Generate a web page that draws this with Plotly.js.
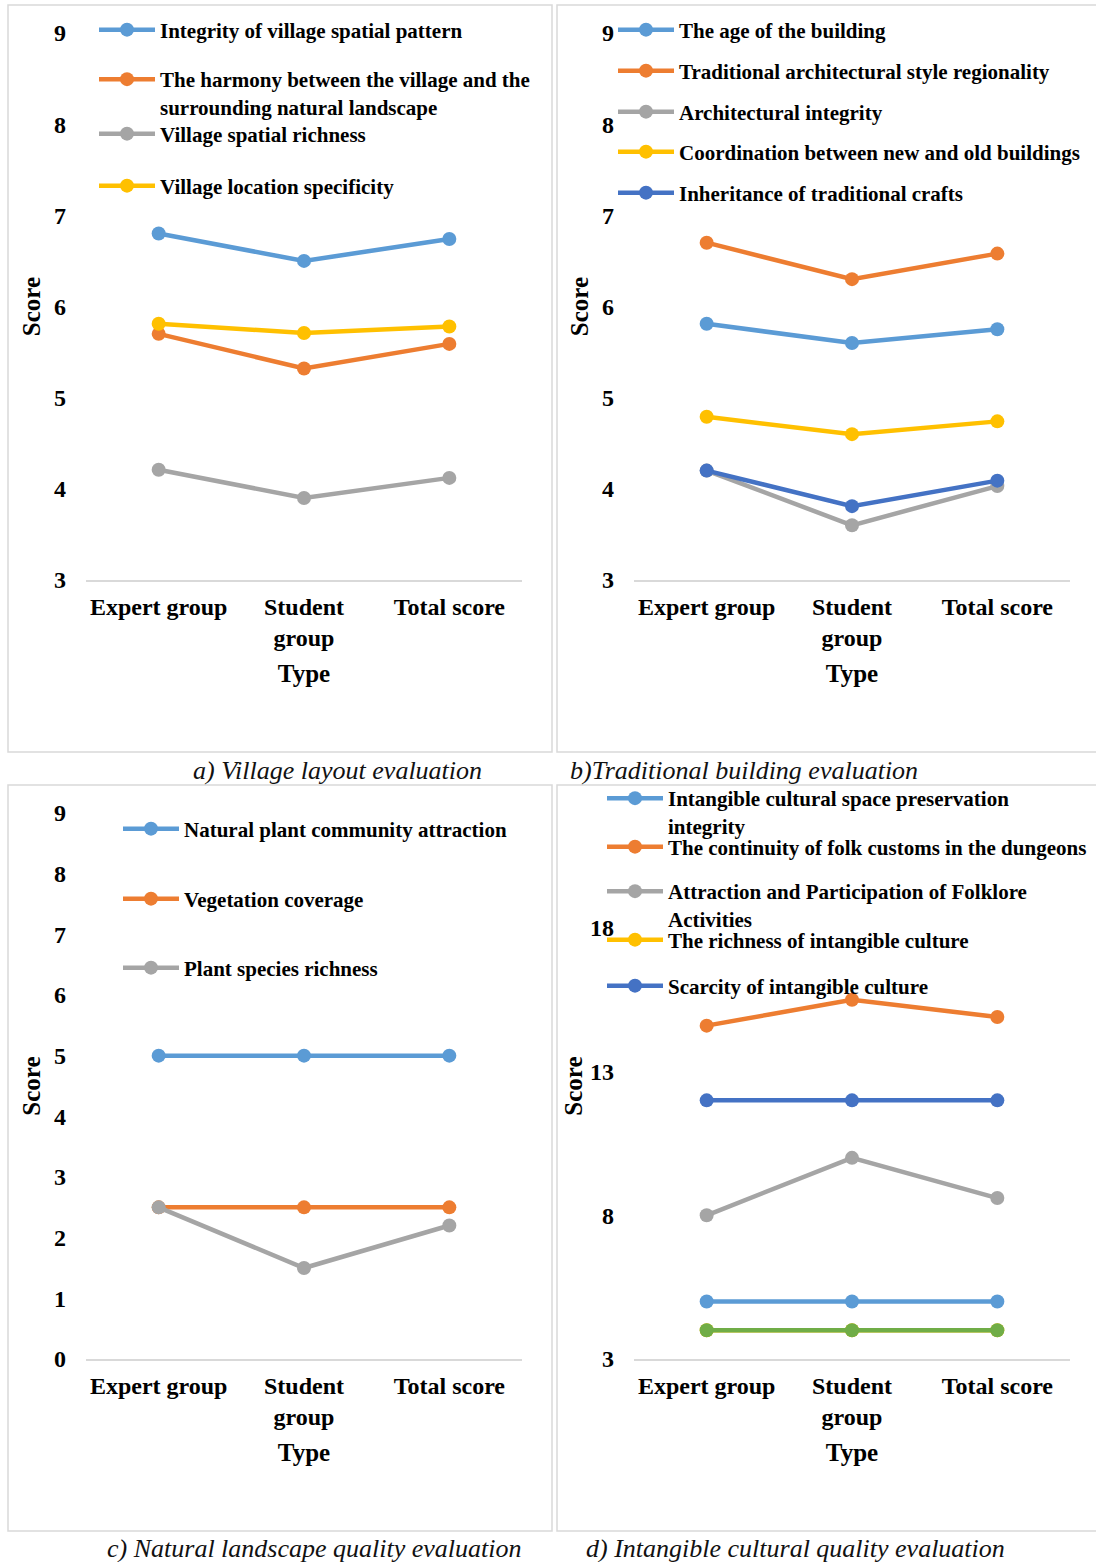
<!DOCTYPE html>
<html>
<head>
<meta charset="utf-8">
<script src="https://cdn.plot.ly/plotly-3.0.1.min.js"></script>
<style>html,body{margin:0;padding:0;background:#fff}</style>
</head>
<body>
<div id="chart" style="width:1096px;height:1562px"></div>
<script>
// Shared category axis
const categories = ['Expert group', 'Student<br>group', 'Total score'];

// a) Village layout evaluation
const spatialPatternIntegrity = [6.80, 6.50, 6.74];
const landscapeHarmony = [5.70, 5.32, 5.59];
const spatialRichness = [4.21, 3.90, 4.12];
const locationSpecificity = [5.81, 5.71, 5.78];

// b) Traditional building evaluation
const buildingAge = [5.81, 5.60, 5.75];
const styleRegionality = [6.70, 6.30, 6.58];
const architecturalIntegrity = [4.20, 3.60, 4.03];
const newOldCoordination = [4.79, 4.60, 4.74];
const craftInheritance = [4.20, 3.81, 4.09];

// c) Natural landscape quality evaluation
const plantCommunityAttraction = [5.0, 5.0, 5.0];
const vegetationCoverage = [2.5, 2.5, 2.5];
const plantSpeciesRichness = [2.5, 1.5, 2.2];

// d) Intangible cultural quality evaluation
const culturalSpaceIntegrity = [5.0, 5.0, 5.0];
const folkCustomContinuity = [14.6, 15.5, 14.9];
const folkloreParticipation = [8.0, 10.0, 8.6];
const intangibleRichness = [4.0, 4.0, 4.0];
const intangibleScarcity = [12.0, 12.0, 12.0];
const intangibleOther = [4.0, 4.0, 4.0];

const W = 1096, H = 1562;
const px = x => x / W;
const py = y => 1 - y / H;

const FONT = 'Liberation Serif, "Times New Roman", serif';
const C = {
  blue: '#5B9BD5', orange: '#ED7D31', gray: '#A5A5A5',
  yellow: '#FFC000', navy: '#4472C4', green: '#70AD47'
};

// Each legend entry gets its own legend box so the entries sit at fixed rows.
const LEGEND_ITEM_WIDTH = 56;
const LEGEND_TEXT_OFFSET = LEGEND_ITEM_WIDTH + 10;
const panels = [
  {
    ax: '', textX: 160,
    series: [
      {name: 'Integrity of village spatial pattern', y: spatialPatternIntegrity, color: C.blue, row: 30},
      {name: 'The harmony between the village and the<br>surrounding natural landscape', y: landscapeHarmony, color: C.orange, row: 93},
      {name: 'Village spatial richness', y: spatialRichness, color: C.gray, row: 134},
      {name: 'Village location specificity', y: locationSpecificity, color: C.yellow, row: 186}
    ]
  },
  {
    ax: '2', textX: 679,
    series: [
      {name: 'The age of the building', y: buildingAge, color: C.blue, row: 30},
      {name: 'Traditional architectural style regionality', y: styleRegionality, color: C.orange, row: 71},
      {name: 'Architectural integrity', y: architecturalIntegrity, color: C.gray, row: 112},
      {name: 'Coordination between new and old buildings', y: newOldCoordination, color: C.yellow, row: 152},
      {name: 'Inheritance of traditional crafts', y: craftInheritance, color: C.navy, row: 193}
    ]
  },
  {
    ax: '3', textX: 184,
    series: [
      {name: 'Natural plant community attraction', y: plantCommunityAttraction, color: C.blue, row: 829},
      {name: 'Vegetation coverage', y: vegetationCoverage, color: C.orange, row: 899},
      {name: 'Plant species richness', y: plantSpeciesRichness, color: C.gray, row: 968}
    ]
  },
  {
    ax: '4', textX: 668,
    series: [
      {name: 'Intangible cultural space preservation<br>integrity', y: culturalSpaceIntegrity, color: C.blue, row: 812},
      {name: 'The continuity of folk customs in the dungeons', y: folkCustomContinuity, color: C.orange, row: 847},
      {name: 'Attraction and Participation of Folklore<br>Activities', y: folkloreParticipation, color: C.gray, row: 905},
      {name: 'The richness of intangible culture', y: intangibleRichness, color: C.yellow, row: 940},
      {name: 'Scarcity of intangible culture', y: intangibleScarcity, color: C.navy, row: 986},
      {name: 'Other intangible culture', y: intangibleOther, color: C.green, row: null}
    ]
  }
];

const traces = [];
const layout = {
  width: W, height: H,
  margin: {l: 0, r: 0, t: 0, b: 0},
  paper_bgcolor: '#fff', plot_bgcolor: 'rgba(0,0,0,0)',
  font: {family: FONT, color: '#000', size: 24, weight: 'bold'},
  showlegend: true,
  shapes: [], annotations: []
};

let legendCount = 0;
panels.forEach(p => {
  p.series.forEach(s => {
    const tr = {
      type: 'scatter', mode: 'lines+markers',
      x: categories, y: s.y, name: s.name,
      xaxis: 'x' + p.ax, yaxis: 'y' + p.ax,
      line: {color: s.color, width: 4.5},
      marker: {color: s.color, size: 14},
      hoverinfo: 'x+y+name'
    };
    if (s.row === null) {
      tr.showlegend = false;
    } else {
      legendCount += 1;
      const key = legendCount === 1 ? 'legend' : 'legend' + legendCount;
      tr.legend = key;
      layout[key] = {
        x: px(p.textX - LEGEND_TEXT_OFFSET), xanchor: 'left',
        y: py(s.row), yanchor: 'middle', valign: 'top',
        itemwidth: LEGEND_ITEM_WIDTH,
        bgcolor: 'rgba(0,0,0,0)', borderwidth: 0,
        font: {family: FONT, size: 21, color: '#000', weight: 'bold'}
      };
    }
    traces.push(tr);
  });
});

// Axes
function xAxis(left, right, anchor) {
  return {
    domain: [px(left), px(right)], anchor: anchor,
    type: 'category', range: [-0.5, 2.5],
    showgrid: false, zeroline: false,
    showline: true, linecolor: '#D9D9D9', linewidth: 2,
    ticks: '', ticklabelstandoff: 4,
    tickfont: {family: FONT, size: 24, color: '#000', weight: 'bold'},
    title: {text: 'Type', font: {family: FONT, size: 25, color: '#000', weight: 'bold'}, standoff: 14},
    fixedrange: true
  };
}
function yAxis(top, bottom, anchor, range, tickvals, standoff) {
  return {
    domain: [py(bottom), py(top)], anchor: anchor,
    range: range, tickvals: tickvals,
    showgrid: false, zeroline: false, showline: false,
    ticks: '', ticklabelstandoff: 19,
    tickfont: {family: FONT, size: 24, color: '#000', weight: 'bold'},
    title: {text: 'Score', font: {family: FONT, size: 25, color: '#000', weight: 'bold'}, standoff: standoff},
    fixedrange: true
  };
}

layout.xaxis = xAxis(86, 522, 'y');
layout.yaxis = yAxis(33, 580, 'x', [3, 9], [3, 4, 5, 6, 7, 8, 9], 6);
layout.xaxis2 = xAxis(634, 1070, 'y2');
layout.yaxis2 = yAxis(33, 580, 'x2', [3, 9], [3, 4, 5, 6, 7, 8, 9], 6);
layout.xaxis3 = xAxis(86, 522, 'y3');
layout.yaxis3 = yAxis(813, 1359, 'x3', [0, 9], [0, 1, 2, 3, 4, 5, 6, 7, 8, 9], 6);
layout.xaxis4 = xAxis(634, 1070, 'y4');
layout.yaxis4 = yAxis(813, 1359, 'x4', [3, 22], [3, 8, 13, 18], 0);

// Panel frames
const frames = [[8, 5, 552, 752], [557, 5, 1097, 752], [8, 785, 552, 1531], [557, 785, 1097, 1531]];
frames.forEach(f => {
  layout.shapes.push({
    type: 'rect', xref: 'paper', yref: 'paper', layer: 'below',
    x0: px(f[0]), x1: px(f[2]), y0: py(f[3]), y1: py(f[1]),
    line: {color: '#D9D9D9', width: 1.5}, fillcolor: 'rgba(0,0,0,0)'
  });
});

// Panel captions
const captions = [
  {text: 'a) Village layout evaluation', x: 337, y: 770},
  {text: 'b)Traditional building evaluation', x: 744, y: 770},
  {text: 'c) Natural landscape quality evaluation', x: 314, y: 1548},
  {text: 'd) Intangible cultural quality evaluation', x: 795, y: 1548}
];
captions.forEach(c => {
  layout.annotations.push({
    text: c.text, xref: 'paper', yref: 'paper',
    x: px(c.x), y: py(c.y), xanchor: 'center', yanchor: 'middle',
    showarrow: false, borderpad: 0,
    font: {family: FONT, size: 26, color: '#111', style: 'italic', weight: 'normal'}
  });
});

Plotly.newPlot('chart', traces, layout, {displayModeBar: false, staticPlot: true});
</script>
</body>
</html>
